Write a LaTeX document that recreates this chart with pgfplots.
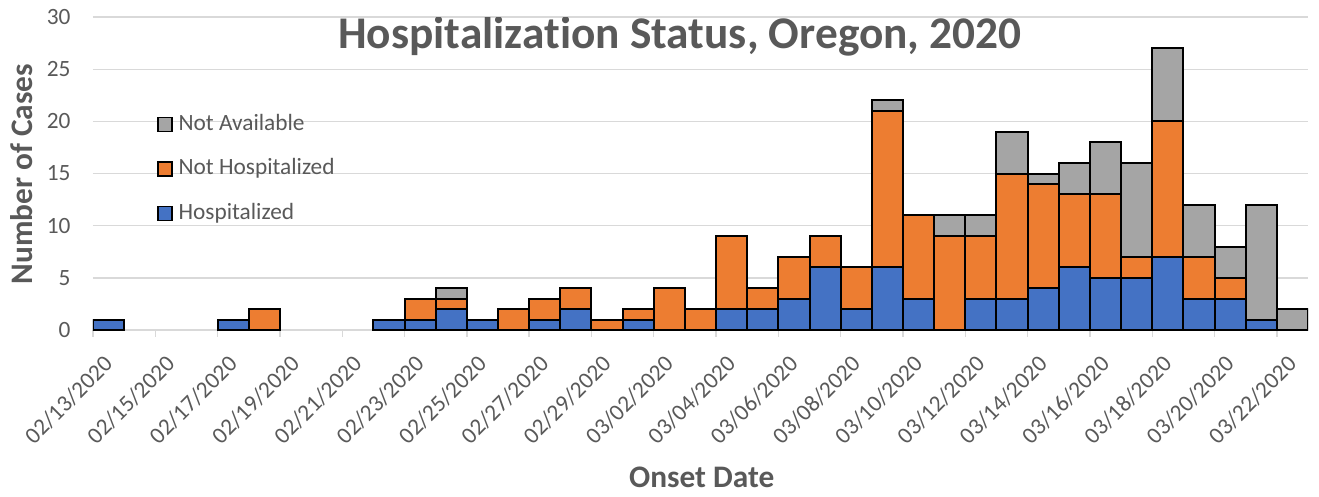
\documentclass[border=0pt]{standalone}
\usepackage{pgfplots}
\pgfplotsset{compat=1.18}
\usepackage{pgfplotstable}
\usepackage{fontspec}
\setmainfont{Carlito}[Ligatures={NoCommon,NoContextual},Contextuals=NoAlternate]
\definecolor{hblue}{HTML}{4472C4}
\definecolor{horange}{HTML}{ED7D31}
\definecolor{hgray}{HTML}{A5A5A5}
\definecolor{txtgray}{HTML}{595959}
\definecolor{gridgray}{HTML}{D9D9D9}

% x = day index (0 = 02/13/2020); days with no cases are omitted from all series
\pgfplotstableread{
x  H  NH NA
0  1  0  0
4  1  0  0
5  0  2  0
9  1  0  0
10 1  2  0
11 2  1  1
12 1  0  0
13 0  2  0
14 1  2  0
15 2  2  0
16 0  1  0
17 1  1  0
18 0  4  0
19 0  2  0
20 2  7  0
21 2  2  0
22 3  4  0
23 6  3  0
24 2  4  0
25 6  15 1
26 3  8  0
27 0  9  2
28 3  6  2
29 3  12 4
30 4  10 1
31 6  7  3
32 5  8  5
33 5  2  9
34 7  13 7
35 3  4  5
36 3  2  3
37 1  0  11
38 0  0  2
}\data

\pgfplotsset{
  sqlegend/.style={legend image code/.code={\draw[##1,line width=0.9pt] (0pt,-5.25pt) rectangle (10.5pt,5.25pt);}}
}

\begin{document}
\begin{tikzpicture}
\useasboundingbox (-69.75pt,-124.5pt) rectangle (919.5pt,247.5pt);
\begin{axis}[
  scale only axis,
  width=911.25pt, height=234.75pt,
  ybar stacked, bar width=1,
  xmin=-0.5, xmax=38.5, ymin=0, ymax=30,
  xtick={0,2,...,38},
  xticklabels={02/13/2020,02/15/2020,02/17/2020,02/19/2020,02/21/2020,02/23/2020,02/25/2020,02/27/2020,02/29/2020,03/02/2020,03/04/2020,03/06/2020,03/08/2020,03/10/2020,03/12/2020,03/14/2020,03/16/2020,03/18/2020,03/20/2020,03/22/2020},
  ytick={0,5,...,30},
  /pgf/number format/assume math mode=true,
  major tick length=0pt,
  tick align=outside,
  extra x ticks={-0.5,1.5,...,37.5},
  extra x tick labels={},
  extra x tick style={major tick length=5pt, tick style={color=gridgray, line width=1pt}},
  ymajorgrids=true,
  grid style={color=gridgray, line width=1pt},
  axis x line*=bottom,
  axis y line*=left,
  y axis line style={draw=none},
  x axis line style={color=gridgray, line width=1pt},
  tick label style={font=\fontsize{17.5pt}{21pt}\selectfont, text=txtgray},
  xticklabel style={rotate=45, anchor=east, inner sep=0pt},
  xticklabel shift=22.5pt,
  yticklabel style={anchor=east, inner sep=0pt},
  yticklabel shift=16.7pt,
  xlabel={Onset Date},
  ylabel={Number of Cases},
  label style={font=\bfseries\fontsize{23.5pt}{28pt}\selectfont, text=txtgray},
  xlabel style={at={(axis description cs:0.501,-0.5016)}, anchor=base},
  ylabel style={at={(axis description cs:-0.0494,0.498)}, anchor=base, rotate=0},
  legend style={at={(axis description cs:0.0495,0.701)}, anchor=north west, draw=none, fill=none,
    font=\fontsize{17.5pt}{21pt}\selectfont, text=txtgray, row sep=16.9pt,
    nodes={inner sep=0pt, text height=12.5pt, text depth=4pt}},
  legend cell align=left,
  reverse legend,
  every axis plot/.append style={draw=black, line width=1.5pt},
]
\addplot[fill=hblue, sqlegend] table[x=x, y=H] {\data};
\addlegendentry{\hspace{4.5pt}Hospitalized}
\addplot[fill=horange, sqlegend] table[x=x, y=NH] {\data};
\addlegendentry{\hspace{4.5pt}Not Hospitalized}
\addplot[fill=hgray, sqlegend] table[x=x, y=NA] {\data};
\addlegendentry{\hspace{4.5pt}Not Available}
\node[anchor=base, font=\bfseries\fontsize{34pt}{40pt}\selectfont, text=txtgray] at (axis description cs:0.483,0.9) {Hospitalization Status, Oregon, 2020};
\end{axis}
\end{tikzpicture}
\end{document}
